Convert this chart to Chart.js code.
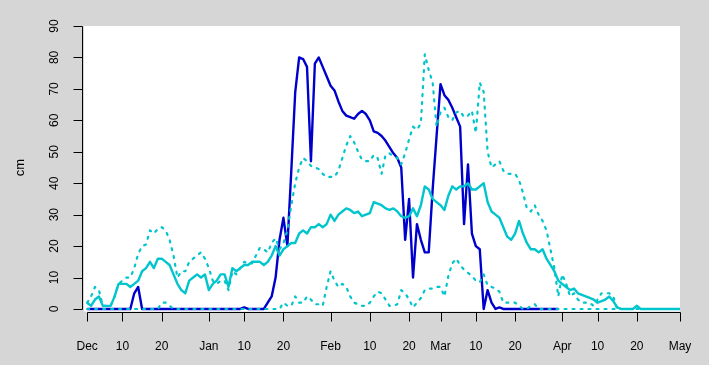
<!DOCTYPE html>
<html>
<head>
<meta charset="utf-8">
<script src="https://cdn.jsdelivr.net/npm/chart.js@4"></script>
<style>
  html, body { margin: 0; padding: 0; background: #d6d6d6; }
</style>
</head>
<body>
<canvas id="snowChart" width="709" height="365"></canvas>
<script>
// day 0 = 1 Dec
const tickDays = [0, 9, 19, 31, 40, 50, 62, 72, 82, 90, 99, 109, 121, 130, 140, 151];
const tickLabels = ['Dec', '10', '20', 'Jan', '10', '20', 'Feb', '10', '20', 'Mar', '10', '20', 'Apr', '10', '20', 'May'];
const yTicks = [0, 10, 20, 30, 40, 50, 60, 70, 80, 90];

// this season, dark blue
const current = [
  0, 0, 0, 0, 0, 0, 0, 0, 0, 0,
  0, 0, 5, 7, 0, 0, 0, 0, 0, 0,
  0, 0, 0, 0, 0, 0, 0, 0, 0, 0,
  0, 0, 0, 0, 0, 0, 0, 0, 0, 0,
  0.5, 0, 0, 0, 0, 0, 2, 4, 10, 22,
  29, 20, 44, 69, 80, 79.5, 77, 47, 78, 80,
  77, 74, 71, 69.5, 66, 63, 61.5, 61, 60.5, 62,
  63, 62, 60, 56.5, 56, 55, 53.5, 51.5, 49.5, 48,
  45, 22, 35, 10, 27, 22, 18, 18, 38, 55,
  71.5, 68, 66.5, 64, 61, 58, 27, 46, 24, 20,
  19, 0, 6, 2, 0, 0.5, 0, 0, 0, 0,
  0, 0, 0, 0, 0, 0, 0, 0, 0, 0,
  0
];

// median, solid turquoise
const median = [
  2, 1, 3, 4, 1, 1, 1, 4, 8, 8,
  8, 7, 8, 9, 12, 13, 15, 13, 16, 16,
  15, 14, 11, 8, 6, 5, 9, 10, 11, 10,
  11, 6, 8, 9, 11, 11, 7, 13, 12, 13,
  14, 14, 15, 15, 15, 14, 15, 17, 20, 17,
  19, 20, 21, 21, 24, 25, 24, 26, 26, 27,
  26, 27, 30, 28, 30, 31, 32, 31.5, 30.5, 31,
  29.5, 30, 30.5, 34, 33.5, 33, 32, 31.5, 32, 31,
  29.5, 29, 29.5, 32, 29.5, 33, 39, 38, 35, 34,
  33, 31.5, 36, 39, 38, 39, 39, 40, 38, 38,
  39, 40, 34, 31, 30, 29, 26, 23, 22, 24,
  28, 24, 21, 19, 19, 18, 19, 16, 14, 12,
  9, 8, 7, 6, 6.5, 5, 4.5, 4, 3.5, 3,
  2, 2.5, 3, 4, 2.5, 0.5, 0, 0, 0, 0,
  1, 0, 0, 0, 0, 0, 0, 0, 0, 0,
  0, 0
];

// upper percentile, dotted turquoise
const upper = [
  2, 4, 7, 6, 1, 1, 1, 4, 8, 9,
  10, 10, 13, 17.5, 20, 20.5, 25, 24, 25.5, 26,
  25, 22, 17, 10, 12, 12, 15, 16, 17, 18,
  16, 13, 9, 8, 9, 9, 6, 12, 11, 13,
  15, 14.5, 14.5, 17, 19.5, 19, 18, 21, 22.5, 19,
  21, 25, 33, 40, 45, 48, 47, 45.5, 45, 44.5,
  43, 42, 42, 42, 44, 48, 52, 55, 53, 50,
  47.5, 47, 47, 49, 48, 43, 49, 49.5, 48.5, 48,
  46, 49.5, 54, 58, 57, 59, 81, 76, 72, 58,
  62.5, 64, 61, 60, 62.5, 63, 61, 61.5, 63, 56,
  72, 69, 50, 45, 46, 47, 44, 43, 43, 43,
  41, 37, 32, 31, 33, 30, 28, 25, 19, 13,
  4, 11, 8, 4, 5, 3, 2, 2, 2, 1,
  3, 5, 5, 5, 4, 0, 0, 0, 0, 0,
  1, 0, 0, 0, 0, 0, 0, 0, 0, 0,
  0, 0
];

// lower percentile, dotted turquoise
const lower = [
  0, 0, 0, 0, 0, 0, 0, 0, 0, 0,
  0, 0, 0, 0, 0, 0, 0, 0, 0, 2,
  2, 1, 0, 0, 0, 0, 0, 0, 0, 0,
  0, 0, 0, 0, 0, 0, 0, 0, 0, 0,
  0, 0, 0, 0, 0, 0, 0, 0, 0, 0,
  2, 1, 1, 4, 2, 2, 4, 3, 1.5, 1.5,
  1, 7, 12, 9, 7, 8, 7, 4, 2, 1.5,
  1, 1, 2, 4, 5.5, 5, 3, 1, 1, 1.5,
  6, 5, 3, 0.5, 2, 3.5, 6, 6.5, 6.5, 7,
  7, 4, 10.5, 14.5, 16, 14, 12.5, 11.5, 10.5, 9,
  8.5, 11, 7.5, 7, 6.5, 5.5, 2, 2, 2, 2,
  1, 0, 0, 1, 1.5, 0, 0, 0, 0, 0,
  0, 0, 0, 0, 0, 0, 0, 0, 0, 0,
  0, 0, 0, 0, 0, 0, 0, 0, 0, 0,
  0, 0, 0, 0, 0, 0, 0, 0, 0, 0,
  0, 0
];

const darkBlue = '#0000cd';
const turq = '#00c5cd';
const toXY = arr => arr.map((v, i) => ({ x: i, y: v }));

// grey page, white plot box, R-style axes
const frame = {
  id: 'frame',
  beforeDraw(chart) {
    const { ctx, chartArea: a } = chart;
    ctx.save();
    ctx.fillStyle = '#d6d6d6';
    ctx.fillRect(0, 0, chart.width, chart.height);
    ctx.fillStyle = '#ffffff';
    ctx.fillRect(a.left, a.top, a.right - a.left, a.bottom - a.top);
    ctx.restore();
  },
  afterDraw(chart) {
    const { ctx, chartArea: a } = chart;
    const x = chart.scales.x, y = chart.scales.y;
    ctx.save();
    ctx.strokeStyle = '#000';
    ctx.fillStyle = '#000';
    ctx.lineWidth = 1;
    ctx.font = '12px "Liberation Sans", Arial, sans-serif';

    // x axis
    const ax = Math.round(a.bottom) + 0.5;
    ctx.beginPath();
    ctx.moveTo(Math.round(x.getPixelForValue(tickDays[0])) + 0.5, ax);
    ctx.lineTo(Math.round(x.getPixelForValue(tickDays[tickDays.length - 1])) + 0.5, ax);
    tickDays.forEach(d => {
      const px = Math.round(x.getPixelForValue(d)) + 0.5;
      ctx.moveTo(px, ax);
      ctx.lineTo(px, ax + 9);
    });
    ctx.stroke();
    ctx.textAlign = 'center';
    ctx.textBaseline = 'alphabetic';
    tickDays.forEach((d, i) => {
      ctx.fillText(tickLabels[i], x.getPixelForValue(d), 349.5);
    });

    // y axis
    const ay = a.left - 1.5;
    ctx.beginPath();
    ctx.moveTo(ay, Math.round(y.getPixelForValue(yTicks[0])) + 0.5);
    ctx.lineTo(ay, Math.round(y.getPixelForValue(yTicks[yTicks.length - 1])) + 0.5);
    yTicks.forEach(v => {
      const py = Math.round(y.getPixelForValue(v)) + 0.5;
      ctx.moveTo(ay, py);
      ctx.lineTo(ay - 9, py);
    });
    ctx.stroke();
    yTicks.forEach(v => {
      ctx.save();
      ctx.translate(58, y.getPixelForValue(v));
      ctx.rotate(-Math.PI / 2);
      ctx.fillText(String(v), 0, 0);
      ctx.restore();
    });

    // axis title
    ctx.save();
    ctx.translate(23.5, (y.getPixelForValue(0) + y.getPixelForValue(90)) / 2);
    ctx.rotate(-Math.PI / 2);
    ctx.font = '13px "Liberation Sans", Arial, sans-serif';
    ctx.fillText('cm', 0, 0);
    ctx.restore();
    ctx.restore();
  }
};

const dotted = { borderDash: [2, 6], borderCapStyle: 'round' };

const ctx = document.getElementById('snowChart').getContext('2d');
const snowChart = new Chart(ctx, {
  type: 'line',
  data: {
    datasets: [
      Object.assign({ label: 'upper', data: toXY(upper), borderColor: turq, borderWidth: 2.2 }, dotted),
      Object.assign({ label: 'lower', data: toXY(lower), borderColor: turq, borderWidth: 2.2 }, dotted),
      { label: 'median', data: toXY(median), borderColor: turq, borderWidth: 2.4 },
      { label: 'current', data: toXY(current), borderColor: darkBlue, borderWidth: 2.4 }
    ]
  },
  options: {
    responsive: false,
    animation: false,
    devicePixelRatio: 1,
    layout: { padding: { left: 84, right: 29, top: 26, bottom: 53.5 } },
    elements: {
      point: { radius: 0 },
      line: { tension: 0, borderJoinStyle: 'round', fill: false }
    },
    plugins: {
      legend: { display: false },
      tooltip: { enabled: false }
    },
    scales: {
      x: { type: 'linear', display: false, min: -0.8, max: 151 },
      y: { type: 'linear', display: false, min: -0.8, max: 90 }
    }
  },
  plugins: [frame]
});
</script>
</body>
</html>
